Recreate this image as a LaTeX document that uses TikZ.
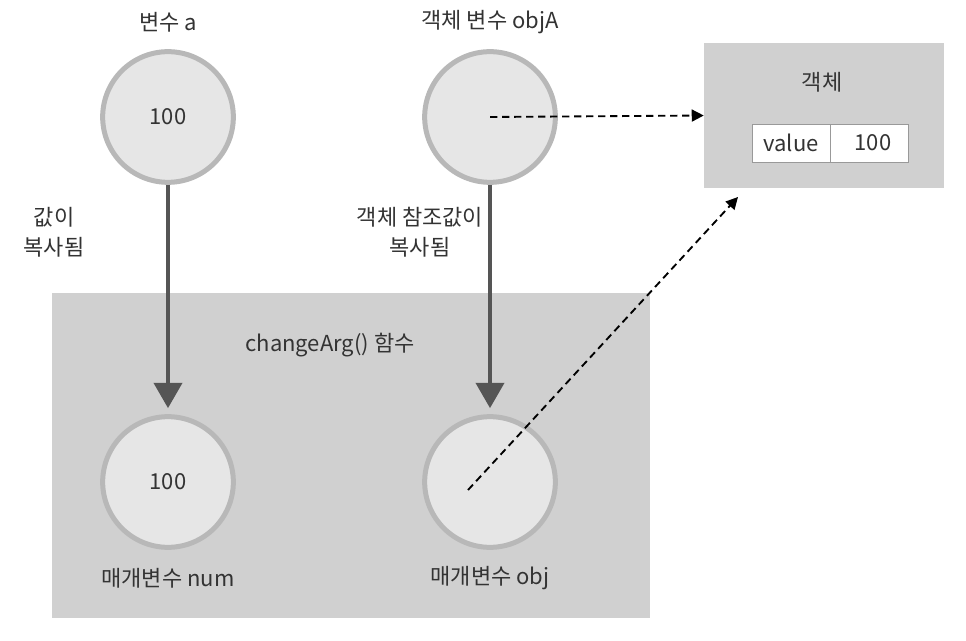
\documentclass[tikz,border=0pt]{standalone}
\usepackage{fontspec}
\setmainfont{Noto Sans CJK KR}
\usetikzlibrary{arrows.meta}
\definecolor{boxgray}{HTML}{D0D0D0}
\definecolor{circfill}{HTML}{E6E6E6}
\definecolor{circline}{HTML}{B8B8B8}
\definecolor{txt}{HTML}{333333}
\definecolor{arrowgray}{HTML}{555555}
\definecolor{cellline}{HTML}{999999}
\tikzset{
  varc/.style={circle, fill=circfill, draw=circline, line width=3.75pt, minimum size=98pt, inner sep=0pt, text=txt, font=\fontsize{16.5}{20}\selectfont},
  lbl/.style={text=txt, font=\fontsize{16.5}{22.5}\selectfont, align=center, inner sep=0pt},
  bigbox/.style={fill=boxgray, inner sep=0pt},
  cell/.style={fill=white, draw=cellline, line width=0.6pt, minimum width=58.5pt, minimum height=28.5pt, inner sep=0pt, text=txt, font=\fontsize{16.5}{20}\selectfont},
  copyarrow/.style={draw=arrowgray, line width=3pt, -{Triangle[width=21pt,length=19pt]}},
  refarrow/.style={draw=black, line width=1.4pt, dash pattern=on 5.5pt off 3.5pt, -{Triangle[width=9pt,length=9pt]}}
}
\begin{document}
\begin{tikzpicture}[x=0.75pt, y=-0.75pt]
\useasboundingbox (0,0) rectangle (966,641);
\fill[white] (0,0) rectangle (966,641);
% boxes
\node[bigbox, minimum width=448.5pt, minimum height=243.75pt] (func) at (351,455.5) {};
\node[bigbox, minimum width=180pt, minimum height=108.75pt] (obj) at (824,115.5) {};
\node[lbl] (funclbl) at (330,345) {changeArg() 함수};
\node[lbl] (objlbl) at (822,82) {객체};
\node[cell] (valname) at (791,143) {value};
\node[cell] (valnum) at (869,143) {\hspace*{6pt}100};
% circles
\node[varc] (a) at (168,117) {100};
\node[varc] (objA) at (490,117) {};
\node[varc] (num) at (168,482) {100};
\node[varc] (pobj) at (490,482) {};
% labels
\node[lbl] (alb) at (168,22) {변수 a};
\node[lbl] (objAlb) at (490,22) {객체 변수 objA};
\node[lbl] (numlb) at (168,578) {매개변수 num};
\node[lbl] (pobjlb) at (490,578) {매개변수 obj};
\node[lbl] (copy1) at (54,232) {값이\\복사됨};
\node[lbl] (copy2) at (420,232) {객체 참조값이\\복사됨};
% arrows
\draw[copyarrow] (a.south) -- ([yshift=4.5pt]num.north);
\draw[copyarrow] (objA.south) -- ([yshift=4.5pt]pobj.north);
\draw[refarrow] (objA.center) -- (obj.west);
\coordinate (s2) at (468,490);
\coordinate (e2) at (738,197);
\draw[refarrow] (s2) -- (e2);
\end{tikzpicture}
\end{document}
